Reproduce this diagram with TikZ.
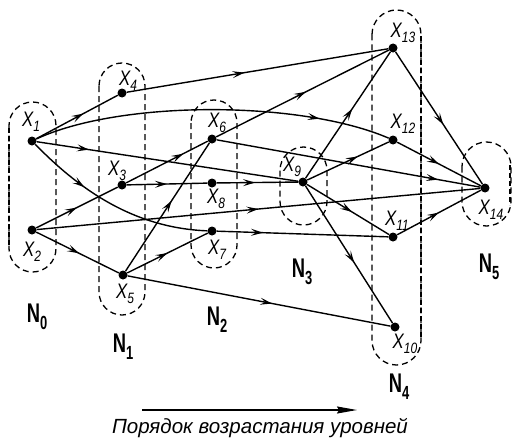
\documentclass[tikz,border=0pt]{standalone}
\usepackage{fontspec}
\setmainfont{Liberation Sans}
\usepackage{graphicx}
\usetikzlibrary{arrows.meta,decorations.markings}
\newcommand{\Xl}[1]{\scalebox{0.8}[1]{\fontsize{21}{21}\selectfont\itshape X\raisebox{-5pt}{\fontsize{15}{15}\selectfont #1}}}
\newcommand{\Nl}[1]{\scalebox{0.68}[1]{\fontsize{27}{27}\selectfont\bfseries N\raisebox{-7pt}{\fontsize{19}{19}\selectfont #1}}}
\begin{document}
\begin{tikzpicture}[x=1pt,y=-1pt,
  dot/.style={circle,fill=black,inner sep=0pt,minimum size=9pt},
  edge/.style={line width=1.4pt},
  midarr/.style={postaction={decorate},decoration={markings,mark=at position #1 with {\arrow{Stealth[length=12pt,width=7pt,inset=5pt]}}}},
  grp/.style={line width=1.3pt,dash pattern=on 6pt off 4pt},
  grpthick/.style={line width=2.6pt,dash pattern=on 5pt off 3pt},
  lbl/.style={inner sep=0pt}]
\useasboundingbox (0,0) rectangle (513,444);
% groups
\draw[grp,rounded corners=23.5pt] (9,102) rectangle (56,272);
\draw[grpthick] (9,128) -- (9,248);
\draw[grp,rounded corners=23pt] (99,63) rectangle (145,315);
\draw[grp,rounded corners=23pt] (191,100) rectangle (237,268);
\draw[grp,rounded corners=23.5pt] (280,147) rectangle (327,225);
\draw[grp,rounded corners=24.5pt] (372,10) rectangle (421,365);
\draw[grpthick] (421,36) -- (421,340);
\draw[grp,rounded corners=24.5pt] (462,142) rectangle (511,226);
\draw[grpthick] (510,165) -- (510,205);
% nodes
\node[dot] (x1) at (32,141) {};
\node[dot] (x2) at (32,230) {};
\node[dot] (x4) at (122,93) {};
\node[dot] (x3) at (122,185) {};
\node[dot] (x5) at (123,275) {};
\node[dot] (x6) at (212,139) {};
\node[dot] (x8) at (212,183) {};
\node[dot] (x7) at (212,231) {};
\node[dot] (x9) at (303,182) {};
\node[dot] (x13) at (393,48) {};
\node[dot] (x12) at (393,140) {};
\node[dot] (x11) at (393,237) {};
\node[dot] (x10) at (395,327) {};
\node[dot] (x14) at (485,188) {};
% labels
\node[lbl] (l1) at (31,122) {\Xl{1}};
\node[lbl] (l2) at (32,252) {\Xl{2}};
\node[lbl] (l4) at (128,81) {\Xl{4}};
\node[lbl] (l3) at (117,171) {\Xl{3}};
\node[lbl] (l5) at (125,294) {\Xl{5}};
\node[lbl] (l6) at (217,123) {\Xl{6}};
\node[lbl] (l8) at (216,199) {\Xl{8}};
\node[lbl] (l7) at (217,250) {\Xl{7}};
\node[lbl] (l9) at (292,167) {\Xl{9}};
\node[lbl] (l13) at (403,33) {\Xl{13}};
\node[lbl] (l12) at (403,124) {\Xl{12}};
\node[lbl] (l11) at (397,221) {\Xl{11}};
\node[lbl] (l10) at (405,344) {\Xl{10}};
\node[lbl] (l14) at (491,210) {\Xl{14}};
% level labels
\node[lbl] (n0) at (37,317) {\Nl{0}};
\node[lbl] (n1) at (123,347) {\Nl{1}};
\node[lbl] (n2) at (217,320) {\Nl{2}};
\node[lbl] (n3) at (302,272) {\Nl{3}};
\node[lbl] (n4) at (399,387) {\Nl{4}};
\node[lbl] (n5) at (489,267) {\Nl{5}};
% edges
\draw[edge,midarr=0.58] (x1) -- (x4);
\draw[edge,midarr=0.45] (x4) -- (x13);
\draw[edge,midarr=0.8] (x1) .. controls (120,100) and (300,100) .. (x12);
\draw[edge,midarr=0.2] (x1) -- (x9);
\draw[edge,midarr=0.33] (x1) .. controls (75,185) and (130,228) .. (x7);
\draw[edge,midarr=0.5] (x2) -- (x3);
\draw[edge,midarr=0.52] (x2) -- (x5);
\draw[edge,midarr=0.5] (x2) -- (x14);
\draw[edge,midarr=0.7] (x3) -- (x6);
\draw[edge,midarr=0.5] (x3) -- (x8);
\draw[edge,midarr=0.47] (x8) -- (x9);
\draw[edge,midarr=0.55] (x5) -- (x6);
\draw[edge,midarr=0.5] (x5) -- (x7);
\draw[edge,midarr=0.55] (x5) -- (x10);
\draw[edge,midarr=0.27] (x7) -- (x11);
\draw[edge,midarr=0.52] (x6) -- (x13);
\draw[edge,midarr=0.84] (x6) -- (x14);
\draw[edge,midarr=0.55] (x9) -- (x13);
\draw[edge,midarr=0.62] (x9) -- (x12);
\draw[edge,midarr=0.55] (x9) -- (x11);
\draw[edge,midarr=0.56] (x9) -- (x10);
\draw[edge,midarr=0.55] (x13) -- (x14);
\draw[edge,midarr=0.5] (x12) -- (x14);
\draw[edge,midarr=0.5] (x11) -- (x14);
% order arrow
\coordinate (a0) at (142,410);
\coordinate (a1) at (357,410);
\draw[line width=1.4pt,-{Stealth[length=20pt,width=7pt,inset=2pt]}] (a0) -- (a1);
\node[lbl] (title) at (260,428) {\fontsize{20.5}{20.5}\selectfont\itshape Порядок возрастания уровней};
\end{tikzpicture}
\end{document}
